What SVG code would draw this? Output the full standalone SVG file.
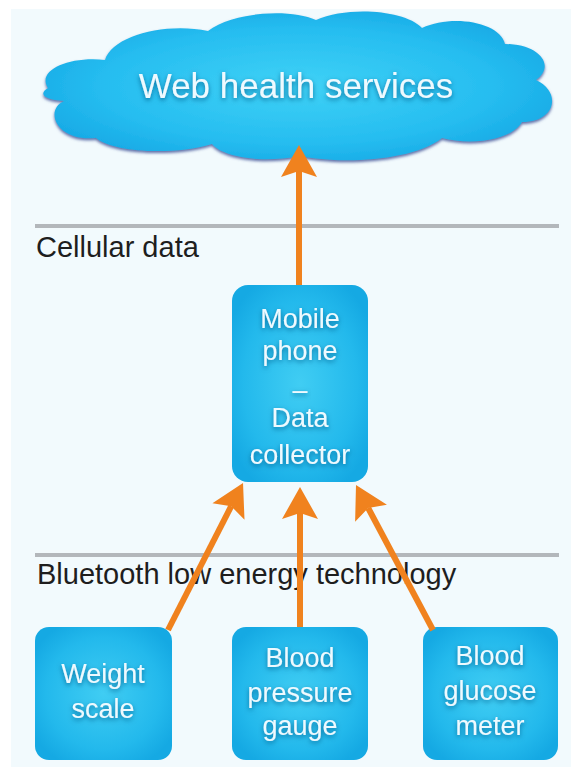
<svg xmlns="http://www.w3.org/2000/svg" width="571" height="767" viewBox="0 0 571 767">
  <defs>
    <style>
      .lbl { font-family: "Liberation Sans", Arial, sans-serif; font-size: 29px; fill: #1e1e1e; }
      .ntxt { font-family: "Liberation Sans", Arial, sans-serif; font-size: 27px; fill: #eefaff; text-anchor: middle; filter: url(#tshadow); }
      .ctxt { font-family: "Liberation Sans", Arial, sans-serif; font-size: 35px; fill: #eefaff; text-anchor: middle; filter: url(#tshadow); }
      .box { fill: url(#boxGrad); }
      .sep { stroke: #b3b7bb; stroke-width: 4; }
      .conn { stroke: #f0821e; stroke-width: 6; fill: none; marker-end: url(#head); }
    </style>
    <radialGradient id="boxGrad" cx="0.5" cy="0.5" r="0.6">
      <stop offset="0" stop-color="#40cdf3"/>
      <stop offset="0.7" stop-color="#23b9ec"/>
      <stop offset="1" stop-color="#15a9e3"/>
    </radialGradient>
    <radialGradient id="cloudGrad" cx="0.5" cy="0.5" r="0.55">
      <stop offset="0" stop-color="#3fd2f6"/>
      <stop offset="0.7" stop-color="#26bdf0"/>
      <stop offset="1" stop-color="#18abe6"/>
    </radialGradient>
    <filter id="tshadow" x="-20%" y="-30%" width="140%" height="170%">
      <feGaussianBlur in="SourceAlpha" stdDeviation="2.5" result="b"/>
      <feOffset in="b" dy="2" result="o"/>
      <feFlood flood-color="#0b5f8e" flood-opacity="0.85"/>
      <feComposite in2="o" operator="in" result="s"/>
      <feMerge><feMergeNode in="s"/><feMergeNode in="SourceGraphic"/></feMerge>
    </filter>
    <filter id="cshadow" x="-5%" y="-10%" width="110%" height="125%">
      <feGaussianBlur in="SourceAlpha" stdDeviation="1.5" result="b"/>
      <feOffset in="b" dy="2" result="o"/>
      <feFlood flood-color="#4b5d9e" flood-opacity="0.9"/>
      <feComposite in2="o" operator="in" result="s"/>
      <feMerge><feMergeNode in="s"/><feMergeNode in="SourceGraphic"/></feMerge>
    </filter>
    <marker id="head" markerUnits="userSpaceOnUse" markerWidth="34" markerHeight="38" refX="6" refY="18" orient="auto" overflow="visible">
      <path d="M0,0 L32,18 L0,36 L6,18 Z" fill="#f0821e"/>
    </marker>
  </defs>

  <rect x="0" y="0" width="571" height="767" fill="#ffffff"/>
  <rect x="11" y="9" width="560" height="758" fill="#f2fafd"/>

  <g id="separators">
    <line class="sep" x1="35" y1="226" x2="559" y2="226"/>
    <line class="sep" x1="35" y1="555" x2="559" y2="555"/>
    <text class="lbl" x="36" y="257">Cellular data</text>
    <text class="lbl" x="37" y="584">Bluetooth low energy technology</text>
  </g>

  <g id="cloud">
    <path filter="url(#cshadow)" fill="url(#cloudGrad)" d="M48,88 C36,70 70,56 105,60 C112,36 165,22 208,31 C232,12 290,8 316,20 C348,6 405,10 422,28 C452,14 500,22 505,44 C540,44 556,66 536,80 C562,92 556,122 522,122 C512,140 472,146 442,138 C412,162 338,164 300,156 C258,164 222,156 212,144 C172,156 112,152 96,138 C56,142 44,110 64,101 C44,100 38,94 48,88 Z"/>
    <text class="ctxt" x="296" y="98">Web health services</text>
  </g>

  <g id="mobile">
    <rect class="box" x="232" y="285" width="136" height="197" rx="16"/>
    <text class="ntxt" x="300" y="328">Mobile</text>
    <text class="ntxt" x="300" y="360">phone</text>
    <text class="ntxt" x="300" y="399">–</text>
    <text class="ntxt" x="300" y="427">Data</text>
    <text class="ntxt" x="300" y="464">collector</text>
  </g>

  <g id="weight">
    <rect class="box" x="35" y="627" width="137" height="133" rx="14"/>
    <text class="ntxt" x="103" y="683">Weight</text>
    <text class="ntxt" x="103" y="718">scale</text>
  </g>

  <g id="pressure">
    <rect class="box" x="232" y="627" width="136" height="133" rx="14"/>
    <text class="ntxt" x="300" y="667">Blood</text>
    <text class="ntxt" x="300" y="702">pressure</text>
    <text class="ntxt" x="300" y="735">gauge</text>
  </g>

  <g id="glucose">
    <rect class="box" x="423" y="627" width="135" height="133" rx="14"/>
    <text class="ntxt" x="490" y="665">Blood</text>
    <text class="ntxt" x="490" y="700">glucose</text>
    <text class="ntxt" x="490" y="735">meter</text>
  </g>

  <g id="connectors">
    <line class="conn" x1="299" y1="285" x2="299" y2="171"/>
    <line class="conn" x1="168" y1="630" x2="231.2" y2="506.2"/>
    <line class="conn" x1="300" y1="627" x2="300" y2="513"/>
    <line class="conn" x1="433" y1="630" x2="368.2" y2="508"/>
  </g>
</svg>
